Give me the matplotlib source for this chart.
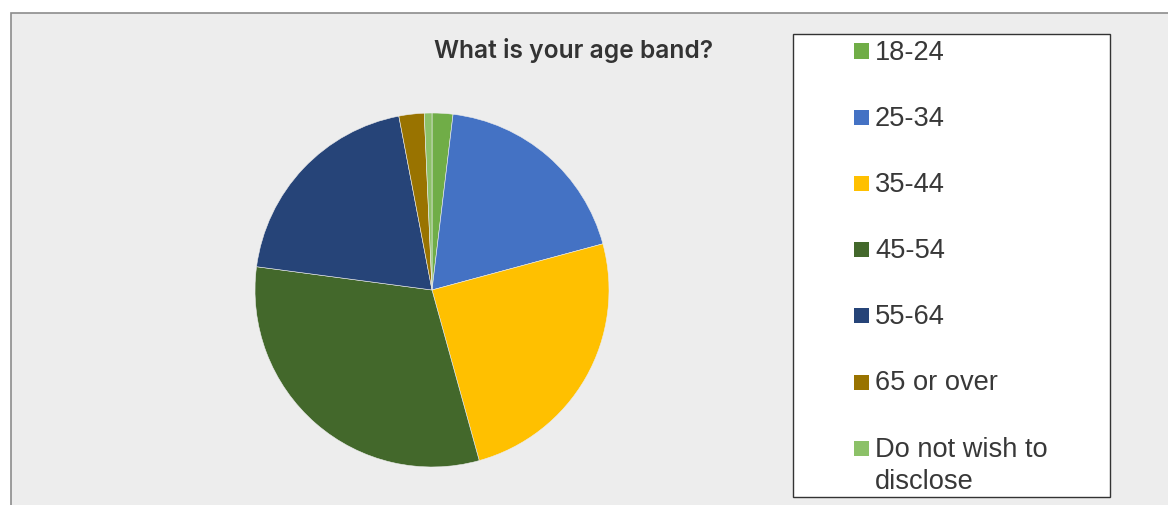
import matplotlib.pyplot as plt
from matplotlib.patches import Rectangle

# Age band breakdown (percent of respondents)
age_bands = ["18-24", "25-34", "35-44", "45-54", "55-64", "65 or over",
             "Do not wish to\ndisclose"]
shares = [1.9, 18.9, 24.9, 31.4, 19.9, 2.3, 0.7]
colors = ["#70AD47", "#4472C4", "#FFC000", "#43682B", "#264478", "#997300",
          "#8CC168"]
title = "What is your age band?"

W, H = 1168, 505
fig = plt.figure(figsize=(W / 100, H / 100), dpi=100)
fig.patch.set_facecolor("white")


def fx(px):
    return px / W


def fy(py):
    return 1 - py / H


# grey chart area with a border along top and left
fig.patches.append(Rectangle((fx(11), -0.02), 1 - fx(11) + 0.02, fy(13) + 0.02,
                             transform=fig.transFigure, facecolor="#EDEDED",
                             edgecolor="#8C8C8C", linewidth=1.2, zorder=-1))

# pie
cx, cy, r = 432, 290, 177
ax = fig.add_axes([fx(cx - r), fy(cy + r), 2 * r / W, 2 * r / H])
ax.pie(shares, colors=colors, startangle=90, counterclock=False,
       wedgeprops=dict(linewidth=0.4, edgecolor="#EDEDED"))
ax.set_xlim(-1, 1)
ax.set_ylim(-1, 1)
ax.set_aspect("auto")
ax.axis("off")

fig.text(fx(574), fy(58), title, ha="center", va="baseline",
         fontsize=17.7, fontweight="semibold", family="Inter", color="#333333")

# legend box drawn by hand
fig.patches.append(Rectangle((fx(793), fy(497)), fx(1110) - fx(793),
                             fy(34) - fy(497), transform=fig.transFigure,
                             facecolor="white", edgecolor="#333333",
                             linewidth=1.0, zorder=1))
for i, (lab, col) in enumerate(zip(age_bands, colors)):
    yc = 51 + 66.2 * i
    fig.patches.append(Rectangle((fx(854), fy(yc + 7.5)), fx(15), 15 / H,
                                 transform=fig.transFigure, facecolor=col,
                                 edgecolor="none", zorder=2))
    # wrapped labels: each line 32 px below the previous one
    for j, line in enumerate(lab.split("\n")):
        fig.text(fx(875), fy(yc + 8.5 + 32 * j), line, ha="left",
                 va="baseline", fontsize=19.6, family="Liberation Sans",
                 color="#383838", zorder=3)

fig.savefig("out.png", dpi=100)
